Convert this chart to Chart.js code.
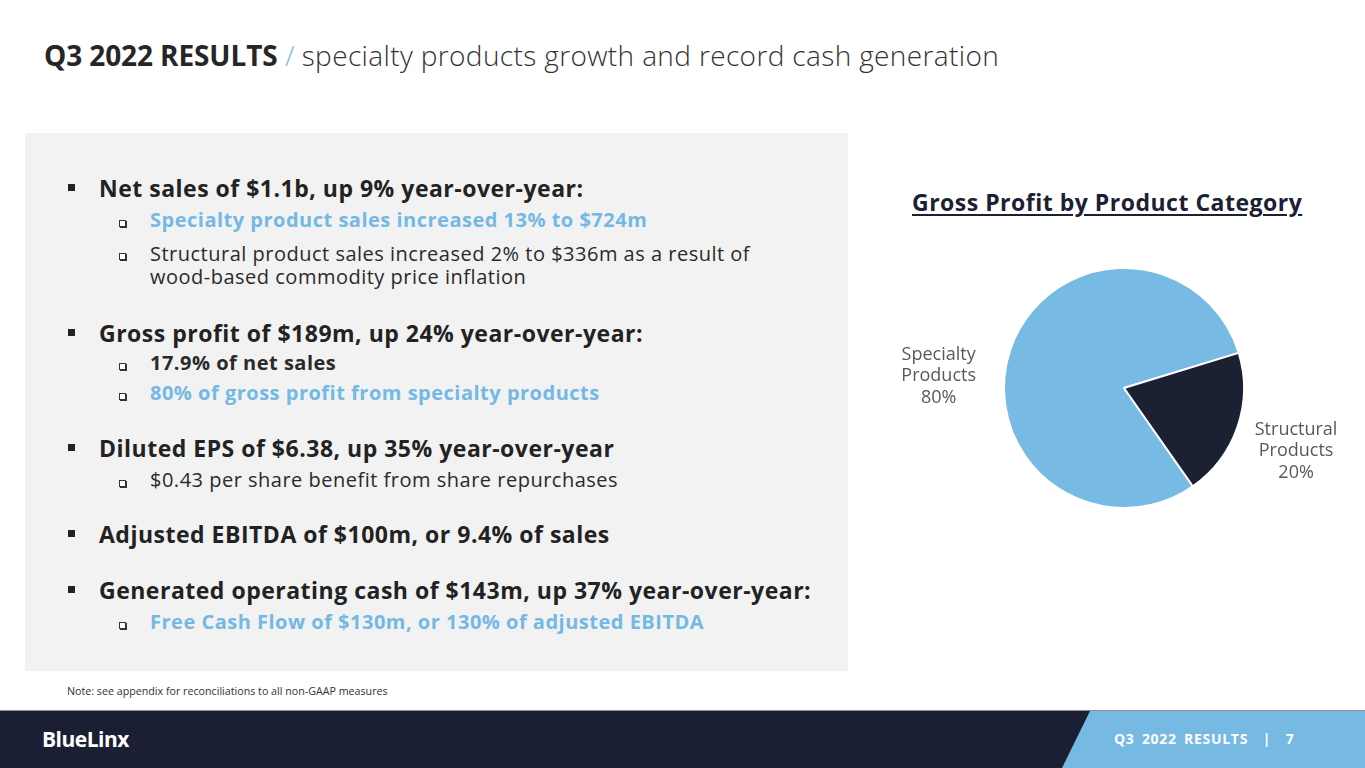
<!DOCTYPE html>
<html>
<head>
<meta charset="utf-8">
<script src="https://cdn.jsdelivr.net/npm/chart.js@4.4.0/dist/chart.umd.min.js"></script>
<style>
  html, body { margin: 0; padding: 0; }
  body { width: 1365px; height: 768px; position: relative; overflow: hidden; background: #fff; font-family: "Open Sans", sans-serif; }
  .abs { position: absolute; white-space: nowrap; }
  #title { left: 44px; top: 37px; font-size: 28px; line-height: 36px; color: #262626; }
  #title b { font-weight: 700; letter-spacing: -0.1px; }
  #title .sl { color: #74b9e4; font-weight: 300; }
  #title .rest { font-weight: 300; color: #333; letter-spacing: 0.37px; }
  #box { left: 25px; top: 133px; width: 823px; height: 538px; background: #f2f2f2; }
  .line { position: absolute; line-height: 22px; white-space: nowrap; }
  .line.wrap { line-height: 23px; }
  .main { left: 99px; font-size: 23px; font-weight: 700; color: #222; letter-spacing: 0.5px; }
  .sub { left: 150px; font-size: 20px; color: #2a2a2a; letter-spacing: 0.5px; }
  .sub.b { font-weight: 700; }
  .sub.blue { color: #74b9e4; font-weight: 700; }
  .mk { position: absolute; left: 68px; width: 7px; height: 7px; background: #222; }
  .mk2 { position: absolute; left: 119px; width: 5px; height: 5px; border: 1px solid #333; box-shadow: 1px 1px 0 #333; background: #fff; }
  #pieTitle { left: 912px; top: 187px; font-size: 23px; line-height: 30px; font-weight: 700; color: #1c2033; text-decoration: underline; text-underline-offset: 3px; letter-spacing: 0.5px; }
  #pieWrap { left: 880px; top: 258px; width: 488px; height: 260px; }
  #note { left: 67px; top: 684px; font-size: 10.7px; color: #333; }
  #footer { left: 0; top: 710px; width: 1365px; height: 58px; background: #1b1f33; border-top: 1px solid #8a8f9c; box-sizing: border-box; }
  #tab { left: 1062px; top: 711px; width: 303px; height: 57px; background: #76b9e3; clip-path: polygon(28px 0, 100% 0, 100% 100%, 0 100%); }
  #brand { left: 42px; top: 725px; font-size: 21px; font-weight: 700; color: #fff; letter-spacing: -0.5px; }
  #pg { left: 1114px; top: 729px; font-size: 14px; font-weight: 700; color: #fff; letter-spacing: 0.7px; word-spacing: 3px; }
</style>
</head>
<body>
<div id="title" class="abs"><b>Q3 2022 RESULTS</b> <span class="sl">/</span> <span class="rest">specialty products growth and record cash generation</span></div>

<div id="box" class="abs"></div>
<div id="bullets"></div>

<div id="pieTitle" class="abs">Gross Profit by Product Category</div>
<div id="pieWrap" class="abs"><canvas id="pie" width="488" height="260"></canvas></div>

<div id="note" class="abs">Note: see appendix for reconciliations to all non-GAAP measures</div>
<div id="footer" class="abs"></div>
<div id="tab" class="abs"></div>
<div id="brand" class="abs">BlueLinx</div>
<div id="pg" class="abs">Q3 2022 RESULTS &nbsp;| &nbsp;7</div>

<script>
// Gross profit split (percent of total)
const categories = ['Specialty Products', 'Structural Products'];
const shares = [80, 20];
const sliceColors = ['#77bae4', '#1c2033'];

// Bullet text: [level, style, text, y center]; level 0 continues the line above
const bulletLines = [
    [1, '', 'Net sales of $1.1b, up 9% year-over-year:', 188],
    [2, 'blue', 'Specialty product sales increased 13% to $724m', 220],
    [2, '', 'Structural product sales increased 2% to $336m as a result of', 253],
    [0, '', 'wood-based commodity price inflation', 276],
    [1, '', 'Gross profit of $189m, up 24% year-over-year:', 333],
    [2, 'b', '17.9% of net sales', 363],
    [2, 'blue', '80% of gross profit from specialty products', 393],
    [1, '', 'Diluted EPS of $6.38, up 35% year-over-year', 448],
    [2, '', '$0.43 per share benefit from share repurchases', 480],
    [1, '', 'Adjusted EBITDA of $100m, or 9.4% of sales', 534],
    [1, '', 'Generated operating cash of $143m, up 37% year-over-year:', 590],
    [2, 'blue', 'Free Cash Flow of $130m, or 130% of adjusted EBITDA', 622]
];

const holder = document.getElementById('bullets');
let last = null;
bulletLines.forEach(([level, style, text, y]) => {
    if (level === 0 && last) {
        // wrapped continuation goes into the same block
        last.classList.add('wrap');
        last.appendChild(document.createElement('br'));
        last.appendChild(document.createTextNode(text));
        return;
    }
    const el = document.createElement('div');
    el.className = 'line ' + (level === 1 ? 'main' : 'sub') + (style ? ' ' + style : '');
    el.textContent = text;
    el.style.top = (y - 11) + 'px';
    holder.appendChild(el);
    last = el;
    const mk = document.createElement('div');
    mk.className = level === 1 ? 'mk' : 'mk2';
    mk.style.top = (y - (level === 1 ? 4 : 0)) + 'px';
    holder.appendChild(mk);
});

// Labels outside the pie: name on two lines plus percent
const outsideLabels = {
    id: 'outsideLabels',
    afterDatasetsDraw(chart, args, opts) {
        const ctx = chart.ctx;
        const meta = chart.getDatasetMeta(0);
        const data = chart.data.datasets[0].data;
        const total = data.reduce((a, b) => a + b, 0);
        ctx.save();
        ctx.font = opts.font;
        ctx.fillStyle = opts.color;
        ctx.textAlign = 'center';
        ctx.textBaseline = 'middle';
        meta.data.forEach((arc, i) => {
            const mid = (arc.startAngle + arc.endAngle) / 2;
            const d = arc.outerRadius + opts.gap[i];
            const x = arc.x + Math.cos(mid) * d;
            const y = arc.y + Math.sin(mid) * d + opts.shiftY[i];
            const lines = chart.data.labels[i].split(' ');
            lines.push(Math.round(data[i] / total * 100) + '%');
            lines.forEach((t, k) => {
                ctx.fillText(t, x, y + (k - 1) * opts.lineHeight);
            });
        });
        ctx.restore();
    }
};

new Chart(document.getElementById('pie'), {
    type: 'pie',
    data: {
        labels: categories,
        datasets: [{
            data: shares,
            backgroundColor: sliceColors,
            borderColor: '#ffffff',
            borderWidth: 2,
            radius: 120
        }]
    },
    options: {
        responsive: false,
        animation: false,
        rotation: 145,
        plugins: {
            legend: { display: false },
            tooltip: { enabled: false },
            outsideLabels: {
                font: '18px "Open Sans"',
                color: '#595959',
                lineHeight: 21.5,
                gap: [76, 62],
                shiftY: [52, 4]
            }
        }
    },
    plugins: [outsideLabels]
});
</script>
</body>
</html>
